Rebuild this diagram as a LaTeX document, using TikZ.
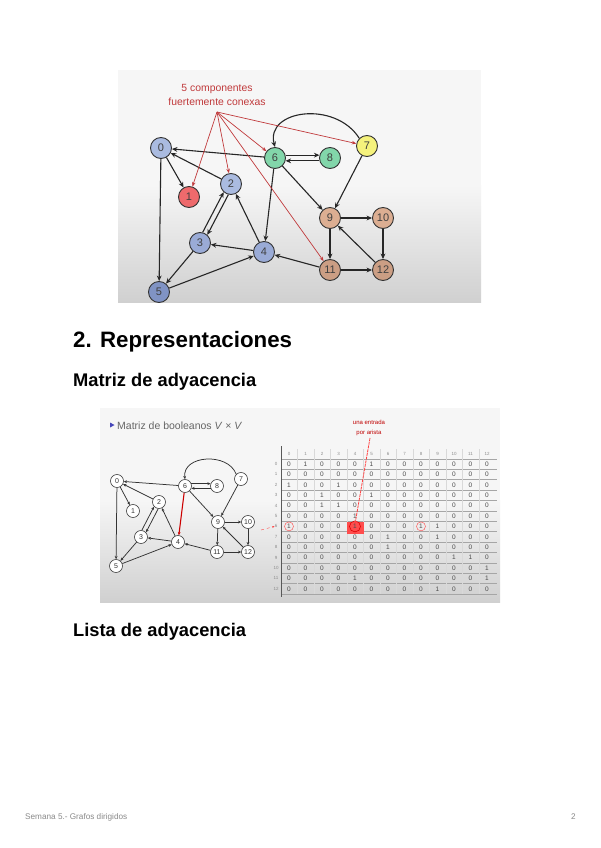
\documentclass[tikz,border=0pt]{standalone}
\usepackage{fontspec}
\setmainfont{Liberation Sans}
\usetikzlibrary{arrows.meta,calc}
\definecolor{shotA}{HTML}{F6F6F6}
\definecolor{shotB}{HTML}{D0D0D0}
\definecolor{nblue}{HTML}{AABBE0}
\definecolor{nblueb}{HTML}{9AABD6}
\definecolor{nbluec}{HTML}{8093C4}
\definecolor{nred}{HTML}{EE6A6C}
\definecolor{ngreen}{HTML}{82D6AA}
\definecolor{nyellow}{HTML}{F5F27C}
\definecolor{ntan}{HTML}{DCAE92}
\definecolor{ntanb}{HTML}{CB9E84}
\definecolor{annred}{HTML}{C0393B}
\definecolor{footgray}{HTML}{8A8A8A}
\tikzset{
  gnode/.style={circle, draw=black!80, line width=0.9pt, minimum size=21pt, inner sep=0pt,
    font=\fontsize{11}{11}\selectfont, text=black!75},
  gedge/.style={-{Stealth[length=5.5pt,width=4.8pt]}, line width=1.1pt, black!85},
  redarrow/.style={-{Stealth[length=4.5pt,width=3.5pt]}, line width=0.7pt, annred},
  snode/.style={circle, draw=black!75, line width=0.65pt, fill=white, minimum size=13pt,
    inner sep=0pt, font=\fontsize{7}{7}\selectfont, text=black!80},
  sedge/.style={-{Stealth[length=3.2pt,width=2.8pt]}, line width=0.75pt, black!80},
  txt/.style={inner sep=0pt, anchor=base west},
  cell/.style={inner sep=0pt, font=\fontsize{6.5}{6.5}\selectfont, text=black!70},
  hdr/.style={inner sep=0pt, font=\fontsize{4.5}{4.5}\selectfont, text=black!45},
}
\begin{document}
\begin{tikzpicture}[x=1pt,y=-1pt]
\useasboundingbox (0,0) rectangle (600,848);
\fill[white] (0,0) rectangle (600,848);

% ---------- top screenshot ----------
\begin{scope}
\clip (118,70) rectangle (481,302);
\fill[shotA] (118,70) rectangle (481,302);
\shade[top color=shotA, bottom color=shotB] (118,185) rectangle (481,302);
\node[gnode, fill=nblue]   (n0)  at (161,148) {0};
\node[gnode, fill=nred]    (n1)  at (189,197) {1};
\node[gnode, fill=nblue]   (n2)  at (231,184) {2};
\node[gnode, fill=nblueb]  (n3)  at (200,243) {3};
\node[gnode, fill=nblueb]  (n4)  at (264,252) {4};
\node[gnode, fill=nbluec]  (n5)  at (159,292) {5};
\node[gnode, fill=ngreen]  (n6)  at (275,158) {6};
\node[gnode, fill=ngreen]  (n8)  at (330,158) {8};
\node[gnode, fill=nyellow] (n7)  at (367,146) {7};
\node[gnode, fill=ntan]    (n9)  at (330,218) {9};
\node[gnode, fill=ntan]    (n10) at (383,218) {10};
\node[gnode, fill=ntanb]   (n11) at (330,270) {11};
\node[gnode, fill=ntanb]   (n12) at (383,270) {12};
\draw[gedge] (n6) -- (n0);
\draw[gedge] (n0) -- (n1);
\draw[gedge] (n0) -- (n5);
\draw[gedge] (n2) -- (n0);
\draw[gedge] (n3.76) -- (n2.228);
\draw[gedge] (n2.256) -- (n3.48);
\draw[gedge] (n3) -- (n5);
\draw[gedge] (n5) -- (n4);
\draw[gedge] (n4) -- (n3);
\draw[gedge] (n4) -- (n2);
\draw[gedge] (n6) -- (n4);
\draw[gedge] (n6.15) -- (n8.165);
\draw[gedge] (n8.195) -- (n6.-15);
\draw[gedge] (n6) -- (n9);
\draw[gedge] (n7.north west) .. controls (335,100) and (265,110) .. (n6.north);
\draw[gedge] (n7) -- (n9);
\draw[gedge] (n9) -- (n10);
\draw[gedge] (n9) -- (n11);
\draw[gedge] (n10) -- (n12);
\draw[gedge] (n11) -- (n12);
\draw[gedge] (n12) -- (n9);
\draw[gedge] (n11) -- (n4);
\node[inner sep=0pt, align=center, text=annred, font=\fontsize{10.4}{14}\selectfont] (ann) at (217,95) {5 componentes\\fuertemente conexas};
\coordinate (ao) at (217,112);
\draw[redarrow] (ao) -- (n1);
\draw[redarrow] (ao) -- (n2);
\draw[redarrow] (ao) -- (n6);
\draw[redarrow] (ao) -- (n7);
\draw[redarrow] (ao) -- (n11);
\end{scope}

% ---------- headings ----------
\node[txt, font=\bfseries\fontsize{22.3}{27}\selectfont] (h1) at (73,347) {2. Representaciones};
\node[txt, font=\bfseries\fontsize{18.3}{22}\selectfont] (h2) at (73,386) {Matriz de adyacencia};
\node[txt, font=\bfseries\fontsize{18.3}{22}\selectfont] (h3) at (73,636) {Lista de adyacencia};

% ---------- lower screenshot ----------
\begin{scope}
\clip (100,408) rectangle (500,602);
\fill[shotA] (100,408) rectangle (500,602);
\shade[top color=shotA, bottom color=shotB] (100,500) rectangle (500,602);
\fill[blue!45!gray] (110,422.5) -- (114.5,425) -- (110,427.5) -- cycle;
\node[txt, font=\fontsize{10.5}{12}\selectfont, text=black!60] (ttl) at (117,429) {Matriz de booleanos \textit{V} × \textit{V}};
% small graph
\node[snode] (m0)  at (117,481) {0};
\node[snode] (m1)  at (133,511) {1};
\node[snode] (m2)  at (159,502) {2};
\node[snode] (m3)  at (141,537) {3};
\node[snode] (m4)  at (178,542) {4};
\node[snode] (m5)  at (116,566) {5};
\node[snode] (m6)  at (185,486) {6};
\node[snode] (m8)  at (217,486) {8};
\node[snode] (m7)  at (241,479) {7};
\node[snode] (m9)  at (218,522) {9};
\node[snode] (m10) at (248,522) {10};
\node[snode] (m11) at (217,552) {11};
\node[snode] (m12) at (248,552) {12};
\draw[sedge] (m6) -- (m0);
\draw[sedge] (m0) -- (m1);
\draw[sedge] (m0) -- (m5);
\draw[sedge] (m2) -- (m0);
\draw[sedge] (m3.83) -- (m2.223);
\draw[sedge] (m2.263) -- (m3.43);
\draw[sedge] (m3) -- (m5);
\draw[sedge] (m5) -- (m4);
\draw[sedge] (m4) -- (m3);
\draw[sedge] (m4) -- (m2);
\draw[sedge, draw=red!80!black, line width=1.1pt] (m6) -- (m4);
\draw[sedge] (m6.20) -- (m8.160);
\draw[sedge] (m8.200) -- (m6.-20);
\draw[sedge] (m6) -- (m9);
\draw[sedge] (m7.north west) .. controls (228,452) and (182,455) .. (m6.north);
\draw[sedge] (m7) -- (m9);
\draw[sedge] (m9) -- (m10);
\draw[sedge] (m9) -- (m11);
\draw[sedge] (m10) -- (m12);
\draw[sedge] (m11) -- (m12);
\draw[sedge] (m12) -- (m9);
\draw[sedge] (m11) -- (m4);
% matrix grid
\foreach \k in {0,...,13} \draw[black!35, line width=0.4pt] (281,{458.8+10.4*\k}) -- (497,{458.8+10.4*\k});
\foreach \k in {0,...,11} \draw[black!15, line width=0.3pt] ({297.25+16.5*\k},449) -- ({297.25+16.5*\k},594);
\draw[black!65, line width=0.8pt] (281,446) -- (281,597);
% highlight cell
\fill[red!70] (347,521.5) rectangle (363.5,534);
% headers
\foreach \j in {0,...,12} \node[hdr] (hd-\j) at ({289+16.5*\j},454) {\j};
\foreach \i in {0,...,12} \node[hdr] (rl-\i) at (276,{464+10.4*\i}) {\i};
% values
\foreach \row [count=\i from 0] in {
  {0,1,0,0,0,1,0,0,0,0,0,0,0},
  {0,0,0,0,0,0,0,0,0,0,0,0,0},
  {1,0,0,1,0,0,0,0,0,0,0,0,0},
  {0,0,1,0,0,1,0,0,0,0,0,0,0},
  {0,0,1,1,0,0,0,0,0,0,0,0,0},
  {0,0,0,0,1,0,0,0,0,0,0,0,0},
  {1,0,0,0,1,0,0,0,1,1,0,0,0},
  {0,0,0,0,0,0,1,0,0,1,0,0,0},
  {0,0,0,0,0,0,1,0,0,0,0,0,0},
  {0,0,0,0,0,0,0,0,0,0,1,1,0},
  {0,0,0,0,0,0,0,0,0,0,0,0,1},
  {0,0,0,0,1,0,0,0,0,0,0,0,1},
  {0,0,0,0,0,0,0,0,0,1,0,0,0}} {
  \foreach \v [count=\j from 0] in \row {
    \node[cell] (c-\i-\j) at ({289+16.5*\j},{464+10.4*\i}) {\v};
  }
}
% annotations
\draw[red!85!black, line width=0.6pt] (c-6-4) circle (5.5pt);
\draw[red!75, line width=0.4pt] (c-6-0) circle (4.5pt);
\draw[red!75, line width=0.4pt] (c-6-8) circle (4.5pt);
\node[inner sep=0pt, align=center, text=red!75!black, font=\fontsize{6}{10}\selectfont] (ua) at (369,428) {una entrada\\por arista};
\draw[-{Stealth[length=3pt,width=2.5pt]}, red!75, line width=0.8pt, dash pattern=on 3pt off 0.8pt] (ua.south) ++(1,2) -- (c-6-4.north);
\coordinate (la) at (261,530);
\draw[-{Stealth[length=2.5pt,width=2pt]}, red!75, line width=0.4pt, dashed] (la) -- (rl-6.west);
\end{scope}

% ---------- footer ----------
\node[txt, font=\fontsize{8.2}{9}\selectfont, text=footgray] (ft) at (25,819) {Semana 5.- Grafos dirigidos};
\node[inner sep=0pt, anchor=base east, font=\fontsize{8.2}{9}\selectfont, text=footgray] (pg) at (576,819) {2};
\end{tikzpicture}
\end{document}
